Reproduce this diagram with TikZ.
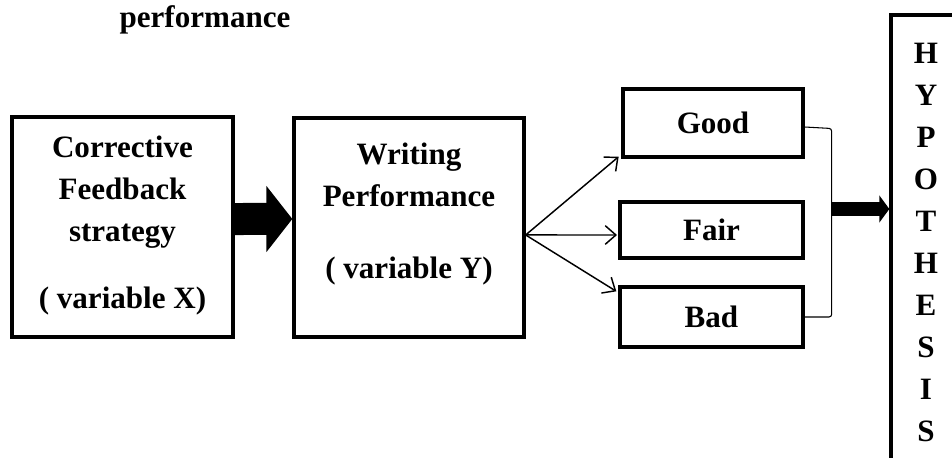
\documentclass[tikz,border=0pt]{standalone}
\usepackage{fontspec}
\setmainfont{Liberation Serif}
\usetikzlibrary{arrows.meta,calc}
\begin{document}
\begin{tikzpicture}[x=0.75pt,y=-0.75pt,
  box/.style={draw,line width=2.5pt,rectangle,inner sep=0pt},
  lbl/.style={font=\fontsize{23.3pt}{31.5pt}\selectfont\bfseries,align=center,inner sep=0pt},
  thinarrow/.style={line width=1.1pt,-{Straight Barb[length=8pt,width=14pt,line width=1.1pt]}},
  bracketline/.style={line width=0.8pt,rounded corners=2pt},
  bigarrowA/.style={line width=24pt,-{Triangle[length=19.5pt,width=48.75pt]}},
  bigarrowB/.style={line width=10.5pt,-{Triangle[length=7.5pt,width=20pt]}}]
\useasboundingbox (0,0) rectangle (952,457);
\clip (0,0) rectangle (952,457);

\node[lbl,anchor=base] (title) at (205,27) {performance};

\node[box,minimum width=165.75pt,minimum height=165pt] (b1) at (122.5,227) {};
\node[lbl] (t1) at ([yshift=1pt]b1.center) {Corrective\\Feedback\\strategy\\[19pt]( variable X)};

\node[box,minimum width=172.5pt,minimum height=164.25pt] (b2) at (409,227.5) {};
\node[lbl] (t2) at ([yshift=10pt]b2.center) {Writing\\Performance\\[22pt]( variable Y)};

\node[box,lbl,minimum width=135pt,minimum height=51pt] (good) at (713,123) {Good};
\node[box,lbl,minimum width=137.25pt,minimum height=42pt] (fair) at (711.5,230) {Fair};
\node[box,lbl,minimum width=137.25pt,minimum height=45pt] (bad) at (711.5,317) {Bad};

\node[box,lbl,minimum width=52.5pt,minimum height=341.25pt] (hyp) at (926,242.5) {H\\Y\\P\\O\\T\\H\\E\\S\\I\\S};

\draw[bigarrowA] ([yshift=6pt]b1.east) -- ([yshift=6.4pt]b2.west);

\coordinate (src) at ([yshift=-5.6pt]b2.east);
\draw[thinarrow] (src) -- ([xshift=-2pt,yshift=1.5pt]good.south west);
\draw[thinarrow] (src) -- ([xshift=-1pt,yshift=-3.75pt]fair.west);
\draw[thinarrow] (src) -- ([xshift=-1.5pt,yshift=-4.5pt]bad.north west);

\draw[bracketline] ([yshift=-3pt]good.east) -- ++(27,1.5) coordinate (bt) |- (bad.east);
\coordinate (join) at (bt |- 0,209);
\draw[bigarrowB] (join) -- (hyp.west |- join);
\end{tikzpicture}
\end{document}
